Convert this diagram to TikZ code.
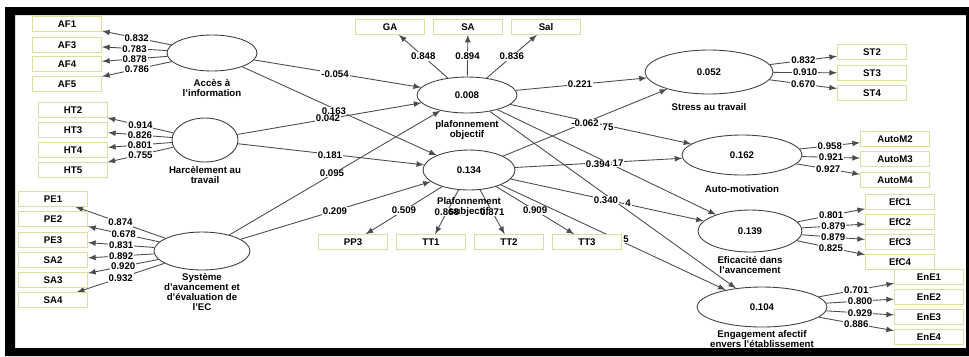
\documentclass[tikz,border=0pt]{standalone}
\usepackage{fontspec}
\setmainfont{Liberation Sans}
\usetikzlibrary{shapes.geometric,backgrounds}
\definecolor{indc}{RGB}{222,222,158}
\newcommand{\plsfont}{\fontsize{5.5}{5.6}\selectfont\bfseries}
\tikzset{
  ind/.style={draw=indc, fill=white, line width=0.7pt, minimum width=1.38cm, minimum height=0.29cm, inner sep=0pt, font=\plsfont},
  lv/.style 2 args={ellipse, draw=black!75, fill=white, line width=0.5pt, minimum width=#1, minimum height=#2, inner sep=0pt, font=\plsfont},
  lvtext/.style={align=center, inner sep=0pt, font=\plsfont},
  coef/.style={fill=white, text=black, inner sep=0.5pt, font=\plsfont},
  arr/.style={-latex, black!70, line width=0.5pt}
}
\begin{document}
\begin{tikzpicture}[x=0.02cm,y=-0.02cm]
\useasboundingbox (0,0) rectangle (969,356);

% indicators
\foreach \n/\y in {AF1/24,AF3/45,AF4/64,AF5/84} \node[ind] (\n) at (67,\y) {\n};
\foreach \n/\y in {HT2/110,HT3/130,HT4/150,HT5/170} \node[ind] (\n) at (73,\y) {\n};
\foreach \n/\y in {PE1/199,PE2/219,PE3/240,SA2/260,SA3/280,SA4/300} \node[ind] (\n) at (53,\y) {\n};
\foreach \n/\x in {GA/390,SA/468,Sal/546} \node[ind] (\n) at (\x,27) {\n};
\foreach \n/\x in {PP3/353,TT1/431,TT2/509,TT3/587} \node[ind] (\n) at (\x,242) {\n};
\foreach \n/\y in {ST2/52,ST3/73,ST4/93} \node[ind] (\n) at (872,\y) {\n};
\foreach \n/\y in {AutoM2/139,AutoM3/159,AutoM4/180} \node[ind] (\n) at (895,\y) {\n};
\foreach \n/\y in {EfC1/202,EfC2/222,EfC3/242,EfC4/262} \node[ind] (\n) at (900,\y) {\n};
\foreach \n/\y in {EnE1/277,EnE2/297,EnE3/317,EnE4/337} \node[ind] (\n) at (929,\y) {\n};

% latent variables
\node[lv={1.8cm}{0.72cm}] (acc) at (212,53) {};
\node[lv={1.32cm}{0.88cm}] (har) at (205,140) {};
\node[lv={1.92cm}{0.76cm}] (sys) at (202,251) {};
\node[lv={2cm}{0.72cm}] (pobj) at (467,95) {0.008};
\node[lv={1.84cm}{0.8cm}] (psub) at (469,170) {0.134};
\node[lv={2.56cm}{0.88cm}] (stress) at (709,72) {0.052};
\node[lv={2.4cm}{0.8cm}] (auto) at (742,155) {0.162};
\node[lv={2.08cm}{0.84cm}] (effic) at (750,231) {0.139};
\node[lv={2.6cm}{0.8cm}] (engag) at (762,307) {0.104};

\node[lvtext] (tacc) at (212,88) {Accès à\\l'information};
\node[lvtext] (thar) at (205,175) {Harcèlement au\\travail};
\node[lvtext] (tsys) at (202,292) {Système\\d'avancement et\\d'évaluation de\\l'EC};
\node[lvtext] (tpobj) at (467,130) {plafonnement\\objectif};
\node[lvtext] (tpsub) at (469,207) {Plafonnement\\subjectif};
\node[lvtext] (tstress) at (709,107) {Stress au travail};
\node[lvtext] (tauto) at (742,189) {Auto-motivation};
\node[lvtext] (teffic) at (750,265) {Eficacité dans\\l'avancement};
\node[lvtext] (tengag) at (762,339) {Engagement afectif\\envers l'établissement};

% path coefficients
\node[coef] (c1) at (335,74) {-0.054};
\node[coef] (c2) at (334,111) {0.163};
\node[coef] (c3) at (328,118) {0.042};
\node[coef] (c4) at (330,155) {0.181};
\node[coef] (c5) at (332,173) {0.095};
\node[coef] (c6) at (335,211) {0.209};
\node[coef] (c7) at (580,84) {0.221};
\node[coef] (c8) at (608,127) {75};
\node[coef] (c9) at (585,123) {-0.062};
\node[coef] (c10) at (618,163) {17};
\node[coef] (c11) at (598,164) {0.394};
\node[coef] (c12) at (628,203) {4};
\node[coef] (c13) at (606,200) {0.340};
\node[coef] (c14) at (626,239) {5};

\begin{pgfonlayer}{background}
\foreach \n/\v in {AF1/0.832,AF3/0.783,AF4/0.878,AF5/0.786} \draw[arr] (acc) -- node[coef]{\v} (\n);
\foreach \n/\v in {HT2/0.914,HT3/0.826,HT4/0.801,HT5/0.755} \draw[arr] (har) -- node[coef]{\v} (\n);
\foreach \n/\v in {PE1/0.874,PE2/0.678,PE3/0.831,SA2/0.892,SA3/0.920,SA4/0.932} \draw[arr] (sys) -- node[coef]{\v} (\n);
\foreach \n/\v in {GA/0.848,SA/0.894,Sal/0.836} \draw[arr] (pobj) -- node[coef]{\v} (\n);
\foreach \n/\v in {PP3/0.509,TT1/0.868,TT2/0.871,TT3/0.909} \draw[arr] (psub) -- node[coef]{\v} (\n);
\foreach \n/\v in {ST2/0.832,ST3/0.910,ST4/0.670} \draw[arr] (stress) -- node[coef]{\v} (\n);
\foreach \n/\v in {AutoM2/0.958,AutoM3/0.921,AutoM4/0.927} \draw[arr] (auto) -- node[coef]{\v} (\n);
\foreach \n/\v in {EfC1/0.801,EfC2/0.879,EfC3/0.879,EfC4/0.825} \draw[arr] (effic) -- node[coef]{\v} (\n);
\foreach \n/\v in {EnE1/0.701,EnE2/0.800,EnE3/0.929,EnE4/0.886} \draw[arr] (engag) -- node[coef]{\v} (\n);
\foreach \a/\b in {acc/pobj,acc/psub,har/pobj,har/psub,sys/pobj,sys/psub,pobj/stress,pobj/auto,pobj/effic,pobj/engag,psub/stress,psub/auto,psub/effic,psub/engag}
  \draw[arr] (\a) -- (\b);
\end{pgfonlayer}

% frame
\fill[black, even odd rule] (5,7) rectangle (969,356) (15,15) rectangle (966,348);
\end{tikzpicture}
\end{document}
